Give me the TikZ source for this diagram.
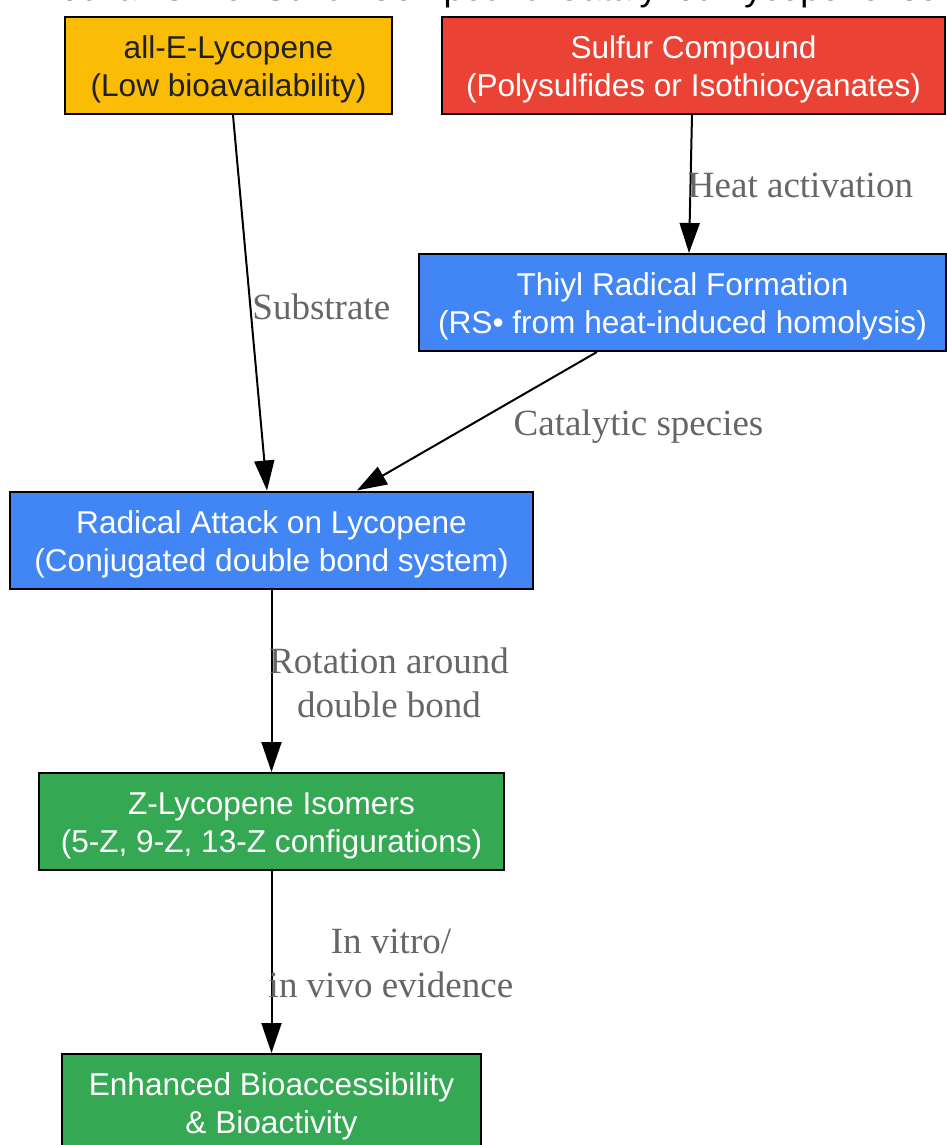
\documentclass[tikz,border=0pt]{standalone}
\usepackage{fontspec}
\setmainfont{Liberation Sans}
\newfontfamily\labelfont{Liberation Serif}
\usetikzlibrary{arrows.meta,positioning}

\definecolor{gyellow}{HTML}{FBBC05}
\definecolor{gred}{HTML}{EA4335}
\definecolor{gblue}{HTML}{4285F4}
\definecolor{ggreen}{HTML}{34A853}
\definecolor{darktext}{HTML}{202124}
\definecolor{labelgray}{HTML}{666666}

\begin{document}
\begin{tikzpicture}[x=1pt,y=-1pt,
  box/.style={draw=black, line width=2pt, align=center, inner sep=0pt,
    minimum height=97pt, text=white, font=\fontsize{31.6}{38}\selectfont,
    text height=70pt, text depth=8pt},
  elabel/.style={align=center, inner sep=0pt, text=labelgray,
    font=\labelfont\fontsize{37}{44}\selectfont},
  flow/.style={line width=2pt, -{Triangle[length=30pt,width=20pt]}}]

\useasboundingbox (0,0) rectangle (946,1145);

% title, cut off at the top edge
\node[anchor=base west, font=\fontsize{36}{43}\selectfont] (title) at (26,1)
  {Mechanism of Sulfur Compound-Catalyzed Lycopene Isomerization};

\node[box, fill=gyellow, text=darktext, minimum width=327pt] (lyco) at (228.5,65.5)
  {all-E-Lycopene\\(Low bioavailability)};
\node[box, fill=gred, minimum width=503pt] (sulfur) at (693.5,65.5)
  {Sulfur Compound\\(Polysulfides or Isothiocyanates)};
\node[box, fill=gblue, minimum width=527pt] (thiyl) at (682.5,302.5)
  {Thiyl Radical Formation\\(RS• from heat-induced homolysis)};
\node[box, fill=gblue, minimum width=523pt] (attack) at (271.5,540)
  {Radical Attack on Lycopene\\(Conjugated double bond system)};
\node[box, fill=ggreen, minimum width=465pt] (zlyco) at (271.5,821.5)
  {Z-Lycopene Isomers\\(5-Z, 9-Z, 13-Z configurations)};
\node[box, fill=ggreen, minimum width=419pt] (bio) at (271.5,1102.5)
  {Enhanced Bioaccessibility\\\& Bioactivity};

\draw[flow] (lyco) -- node[elabel, pos=0.51, xshift=71pt] {Substrate} (attack);
\draw[flow] ([xshift=-1.5pt]sulfur.south) -- node[elabel, pos=0.51, xshift=110pt] {Heat activation} ([xshift=6.5pt]thiyl.north);
\draw[flow] (thiyl) -- node[elabel, pos=0.51, xshift=164pt, yshift=-4pt] {Catalytic species} (attack);
\draw[flow] (attack) -- node[elabel, pos=0.51, xshift=117.5pt] {Rotation around\\double bond} (zlyco);
\draw[flow] (zlyco) -- node[elabel, pos=0.51, xshift=119.5pt] {In vitro/\\in vivo evidence} (bio);

\end{tikzpicture}
\end{document}
